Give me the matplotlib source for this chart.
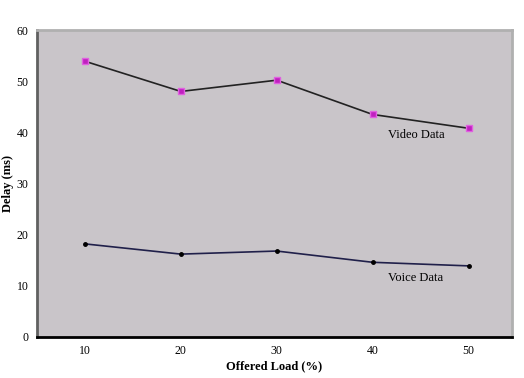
import matplotlib.pyplot as plt

# offered load (%) and delay (ms)
load = [10, 20, 30, 40, 50]
video = [53.9, 48.0, 50.2, 43.5, 40.8]
voice = [18.2, 16.2, 16.8, 14.6, 13.9]

plt.rcParams['font.family'] = ['Liberation Serif', 'DejaVu Serif']

fig = plt.figure(figsize=(5.24, 3.78), dpi=100)
ax = fig.add_axes([0.0706, 0.1085, 0.906, 0.812])
ax.set_facecolor('#c9c5c9')

ax.plot(load, video, color='#222222', lw=1.2, marker='s', markersize=4,
        markerfacecolor='#c020c0', markeredgecolor='#e060e0')
ax.plot(load, voice, color='#20204a', lw=1.2, marker='o', markersize=2.5,
        markerfacecolor='black', markeredgecolor='black')

ax.text(44.6, 40.6, 'Video Data', fontsize=9, va='top', ha='center')
ax.text(44.5, 12.7, 'Voice Data', fontsize=9, va='top', ha='center')

ax.set_xlim(5, 54.5)
ax.set_ylim(0, 60)
ax.set_xticks(load)
ax.set_yticks([0, 10, 20, 30, 40, 50, 60])
ax.tick_params(labelsize=8.5, length=0, pad=6)

for s in ['top', 'right']:
    ax.spines[s].set_color('#b0b0b0')
    ax.spines[s].set_linewidth(2)
ax.spines['left'].set_color('#606060')
ax.spines['left'].set_linewidth(2)
ax.spines['bottom'].set_color('black')
ax.spines['bottom'].set_linewidth(2)

ax.set_xlabel('Offered Load (%)', fontsize=9, fontweight='bold', labelpad=2)
ax.set_ylabel('Delay (ms)', fontsize=9, fontweight='bold', labelpad=2)

fig.savefig('out.png', dpi=100)
